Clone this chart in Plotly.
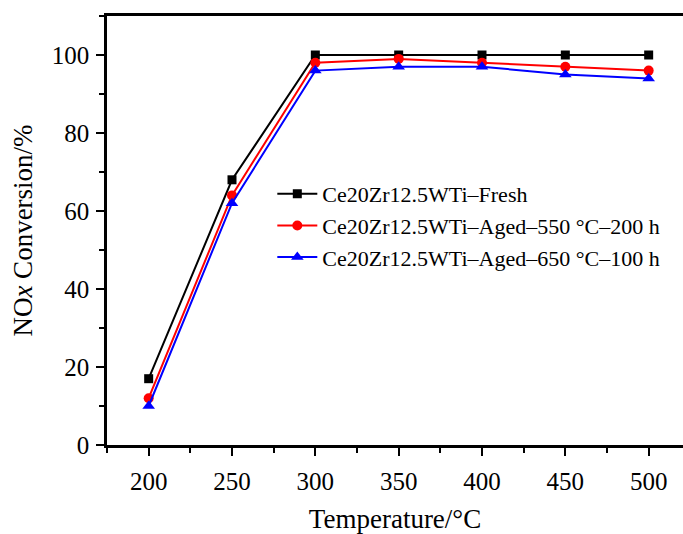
import plotly.graph_objects as go

temperature = [200, 250, 300, 350, 400, 450, 500]
fresh = [17, 68, 100, 100, 100, 100, 100]
aged_550 = [12, 64, 98, 99, 98, 97, 96]
aged_650 = [10, 62, 96, 97, 97, 95, 94]

series = [
    ("Ce20Zr12.5WTi\u2013Fresh", fresh, "black", "square", 9),
    ("Ce20Zr12.5WTi\u2013Aged\u2013550 \u00b0C\u2013200 h", aged_550, "red", "circle", 10),
    ("Ce20Zr12.5WTi\u2013Aged\u2013650 \u00b0C\u2013100 h", aged_650, "blue", "triangle-up", 11),
]

font_family = "Liberation Serif, Times New Roman, serif"

fig = go.Figure()
for name, vals, color, symbol, size in series:
    fig.add_trace(go.Scatter(
        x=temperature, y=vals, name=name, mode="lines+markers",
        line=dict(color=color, width=2),
        marker=dict(symbol=symbol, size=size, color=color),
    ))

axis_common = dict(
    showgrid=False, zeroline=False, showline=True, linecolor="black", linewidth=2.5,
    ticks="outside", ticklen=8, tickwidth=2, tickcolor="black",
    tickfont=dict(family=font_family, size=25, color="black"),
    minor=dict(ticks="outside", ticklen=5, tickwidth=2, tickcolor="black"),
)

fig.update_xaxes(
    range=[175, 520.6], tickvals=temperature, mirror=True,
    minor_dtick=25, minor_tick0=175, ticklabelstandoff=4,
    title=dict(text="Temperature/\u00b0C", font=dict(family=font_family, size=27, color="black"), standoff=20),
    **axis_common,
)
fig.update_yaxes(
    range=[0, 110], tickvals=[0, 20, 40, 60, 80, 100], mirror=False,
    minor_dtick=10, minor_tick0=0, ticklabelstandoff=2,
    title=dict(text="NO<i>x</i> Conversion/%", font=dict(family=font_family, size=27, color="black"), standoff=12),
    **axis_common,
)

fig.update_layout(
    width=683, height=534,
    margin=dict(l=107, r=0, t=16, b=89),
    plot_bgcolor="white", paper_bgcolor="white",
    legend=dict(
        x=0.287, y=0.634, xanchor="left", yanchor="top",
        font=dict(family=font_family, size=22, color="black"),
        bgcolor="rgba(0,0,0,0)", tracegroupgap=0, itemwidth=40,
    ),
)

fig.write_html("out.html")
